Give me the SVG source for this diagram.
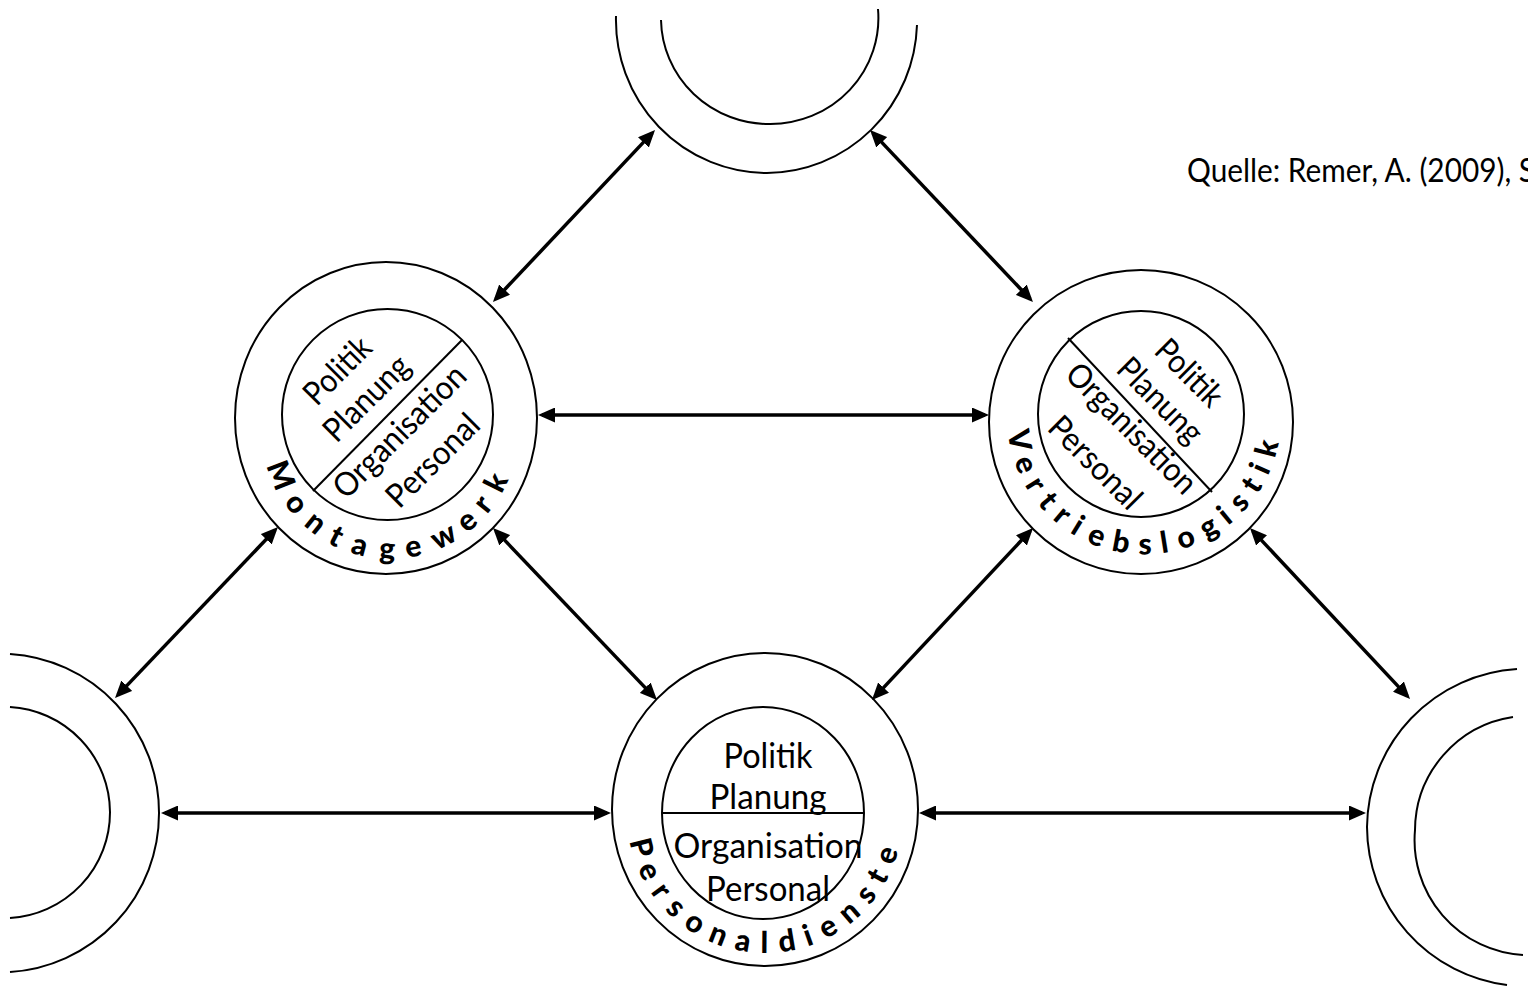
<svg xmlns="http://www.w3.org/2000/svg" width="1528" height="987" viewBox="0 0 1528 987">
<style>
.ring{fill:none;stroke:#000;stroke-width:2}
.div{stroke:#000;stroke-width:2}
.conn{stroke:#000;stroke-width:3.5;fill:none;marker-start:url(#ah);marker-end:url(#ah)}
.in{font-family:Lato,"Open Sans","Liberation Sans",sans-serif;font-size:33px;fill:#000;text-anchor:middle}
.inp{font-family:Lato,"Open Sans","Liberation Sans",sans-serif;font-size:35px;fill:#000;text-anchor:middle}
.arc{font-family:Lato,"Open Sans","Liberation Sans",sans-serif;font-size:30px;font-weight:900;fill:#000}
.src{font-family:Lato,"Open Sans","Liberation Sans",sans-serif;font-size:32px;fill:#000}
</style>
<defs>
<marker id="ah" viewBox="0 0 17 15" refX="13" refY="7.5" markerWidth="17" markerHeight="15" markerUnits="userSpaceOnUse" orient="auto-start-reverse"><path d="M0,0 L17,7.5 L0,15 Z" fill="#000"/></marker>
</defs>
<rect x="0" y="0" width="1528" height="987" fill="#fff"/>

<g id="connectors">
<line class="conn" x1="652.3" y1="132.9" x2="495.7" y2="299.1"/>
<line class="conn" x1="872.8" y1="132.9" x2="1030.2" y2="299.1"/>
<line class="conn" x1="542" y1="415" x2="985" y2="415"/>
<line class="conn" x1="275.2" y1="529.9" x2="117.8" y2="695.1"/>
<line class="conn" x1="495.8" y1="530.9" x2="654.2" y2="697.1"/>
<line class="conn" x1="1030.3" y1="530.9" x2="874.7" y2="697.1"/>
<line class="conn" x1="1252.7" y1="530.9" x2="1407.3" y2="696.1"/>
<line class="conn" x1="165" y1="813" x2="607" y2="813"/>
<line class="conn" x1="923" y1="813" x2="1362" y2="813"/>
</g>

<g id="node-top">
<path class="ring" d="M616,16 A151,153 0 0 0 767,173 A151,153 0 0 0 917,25"/>
<path class="ring" d="M661,20 A108,106 0 0 0 770,124 A108,106 0 0 0 878,9"/>
</g>

<g id="node-left">
<path class="ring" d="M10,654 A159,159 0 0 1 159,813 A159,159 0 0 1 10,972"/>
<path class="ring" d="M10,707 A106,106 0 0 1 110,812 A106,106 0 0 1 10,918"/>
</g>

<g id="node-right">
<path class="ring" d="M1517,669 A160,160 0 0 0 1367,827 A160,160 0 0 0 1507,985"/>
<path class="ring" d="M1513,717 A115,115 0 0 0 1415,830 A115,115 0 0 0 1523,955"/>
</g>

<g id="node-montagewerk">
<ellipse class="ring" cx="386" cy="418" rx="151" ry="156"/>
<circle class="ring" cx="387.5" cy="414.5" r="105.5"/>
<line class="div" x1="462" y1="340" x2="313" y2="491"/>
<g transform="translate(387,416) rotate(-45)">
<text class="in" x="-3" y="-56" textLength="81" lengthAdjust="spacingAndGlyphs">Politik</text>
<text class="in" x="-2" y="-16" textLength="107" lengthAdjust="spacingAndGlyphs">Planung</text>
<text class="in" x="-2" y="31" textLength="173" lengthAdjust="spacingAndGlyphs">Organisation</text>
<text class="in" x="1" y="75" textLength="117" lengthAdjust="spacingAndGlyphs">Personal</text>
</g>
<text class="arc" x="266.1 283.5 302.9 326.7 349.8 379.1 407.0 437.1 467.0 487.1 501.6" y="465.7 502.4 525.1 542.4 552.8 558.7 558.1 550.6 533.5 514.6 494.2" rotate="68.5 52.55 39.2 27.3 14.95 1.7 -11 -26.7 -40.3 -51.7 -63.7">Montagewerk</text>
</g>

<g id="node-vertriebslogistik">
<circle class="ring" cx="1141" cy="422" r="152"/>
<circle class="ring" cx="1141" cy="414" r="103"/>
<line class="div" x1="1068" y1="338" x2="1212" y2="492"/>
<g transform="translate(1141,414) rotate(45)">
<text class="in" x="5" y="-52" textLength="81" lengthAdjust="spacingAndGlyphs">Politik</text>
<text class="in" x="4" y="-12" textLength="106" lengthAdjust="spacingAndGlyphs">Planung</text>
<text class="in" x="3.5" y="28" textLength="170" lengthAdjust="spacingAndGlyphs">Organisation</text>
<text class="in" x="2" y="78" textLength="117" lengthAdjust="spacingAndGlyphs">Personal</text>
</g>
<text class="arc" x="1007.4 1013.7 1024.5 1036.9 1051.9 1069.3 1085.8 1111.1 1138.6 1161.9 1180.5 1206.4 1228.0 1242.1 1257.0 1267.8 1274.8" y="431.5 460.4 484.7 503.0 518.9 532.3 541.7 550.6 554.4 553.3 549.7 539.6 525.7 513.3 495.1 476.3 458.7" rotate="80.4 68.6 58.37 49.18 39.99 31.46 21.94 10.52 -0.23 -9.06 -18.79 -30.02 -39.33 -48.16 -57.65 -66.12 -75.48">Vertriebslogistik</text>
</g>

<g id="node-personaldienste">
<ellipse class="ring" cx="765" cy="809.5" rx="153" ry="156.5"/>
<ellipse class="ring" cx="763" cy="813" rx="101" ry="106"/>
<line class="div" x1="662" y1="813" x2="864" y2="813"/>
<text class="inp" x="768" y="768" textLength="89" lengthAdjust="spacingAndGlyphs">Politik</text>
<text class="inp" x="768" y="809" textLength="117" lengthAdjust="spacingAndGlyphs">Planung</text>
<text class="inp" x="768" y="858" textLength="189" lengthAdjust="spacingAndGlyphs">Organisation</text>
<text class="inp" x="768" y="901" textLength="124" lengthAdjust="spacingAndGlyphs">Personal</text>
<text class="arc" x="629.2 637.3 650.3 664.5 682.5 706.9 733.8 760.4 779.9 807.4 825.5 848.9 869.4 883.5 893.6" y="840.9 867.9 891.9 909.7 925.9 940.4 949.6 953.0 952.4 946.4 939.2 924.9 905.5 885.9 865.7" rotate="75.9 64.34 53.94 44.23 33.32 21.51 9.99 0.37 -9.53 -19.43 -29.11 -40.7 -51.61 -61.27 -71.61">Personaldienste</text>
</g>

<g id="source">
<text class="src" x="1187" y="182" textLength="348" lengthAdjust="spacingAndGlyphs">Quelle: Remer, A. (2009), S</text>
</g>
</svg>
